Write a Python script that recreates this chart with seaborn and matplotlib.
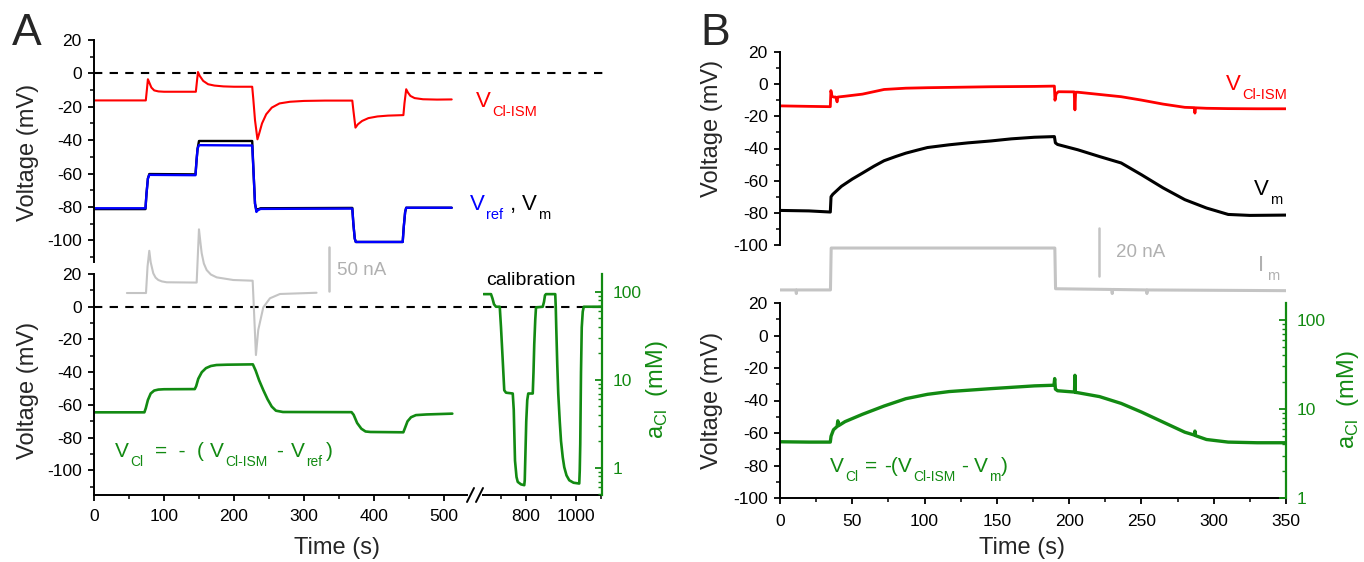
import numpy as np
import matplotlib
matplotlib.use('Agg')
import matplotlib.pyplot as plt
import seaborn as sns
from matplotlib.ticker import MultipleLocator, FixedLocator, LogLocator, NullFormatter
from matplotlib.lines import Line2D

# ---------------- data ----------------
# panel A, top: V_Cl-ISM, V_ref, V_m (mV) against time (s)
a_ism_t = [0, 74, 75.5, 77, 79, 82, 86, 92, 100, 145.5, 147, 148.5, 151, 156, 163, 172, 185, 200,
           226, 227.5, 230, 233.5, 236, 240, 246, 254, 265, 280, 300, 330, 369, 370.5, 373.5, 377,
           383, 392, 405, 420, 442, 443.5, 446, 448.5, 452, 458, 470, 490, 511]
a_ism_v = [-16.2, -16.2, -10, -3.5, -5.5, -8.5, -10.2, -10.8, -11, -11, -5, 0.8, -1.5, -4.5, -6.5,
           -7.3, -7.8, -8, -8, -15, -28, -39.5, -36, -30, -24.5, -20.5, -18, -17, -16.5, -16.3,
           -16.3, -22, -32.5, -30.5, -28.5, -26.8, -25.8, -25.3, -25, -18, -9.5, -11.5, -13.5,
           -14.8, -15.5, -15.7, -15.6]
a_step_t = [0, 73.5, 75, 77, 79, 145, 146.5, 148, 150, 226, 228, 230, 232, 234, 238, 369, 370.5,
            372.5, 374, 441, 442.5, 444.5, 446, 511]
a_ref_v = [-80.8, -80.8, -72, -63, -60.8, -61, -52, -45, -43, -43.2, -60, -78, -83, -82, -81.2,
           -81, -90, -99, -101, -101, -92, -83, -80.5, -80.5]
a_vm_v = [-81.3, -81.3, -72, -63, -60.3, -60.5, -52, -45, -40.5, -40.5, -60, -78, -82, -81.5,
          -80.8, -80.6, -90, -99, -101, -101, -92, -83, -80.5, -80.5]

# panel A: membrane current (nA)
a_im_t = [47, 74.3, 76.5, 79, 81, 84.7, 88, 91.9, 97, 103.9, 144.3, 146.7, 148.5, 150, 152,
          153.9, 157, 161, 167, 175.3, 199, 226.7, 227.5, 231.4, 234.7, 241.9, 251.4, 265.7, 318]
a_im_i = [0, 0, 30, 48, 35, 22.4, 17.5, 14.8, 13.2, 12.2, 11.9, 11.9, 45, 72.4, 58, 45.1, 33.5,
          26.1, 21, 17.8, 14.8, 14.0, 0, -70.5, -42, -16.3, -6.0, -1.1, 0.3]
a_bar_t = [336, 336]
a_bar_i = [2, 52]

# panel A, bottom: V_Cl (mV)
a_cl_t = [0, 72, 74, 77, 81, 86, 92, 100, 144, 146, 149, 154, 160, 167, 175, 190, 227, 231, 236,
          242, 248, 254, 260, 270, 368, 371, 376, 382, 388, 395, 442, 444, 448, 453, 460, 475, 512]
a_cl_v = [-64.5, -64.5, -62, -57, -53, -51.2, -50.6, -50.4, -50.3, -48.5, -44, -40, -37.5,
          -36.2, -35.6, -35.4, -35.2, -39, -45, -51, -56.5, -61, -63.5, -64.3, -64.4, -66, -71,
          -74.5, -76.2, -76.5, -76.7, -74.5, -70, -67.5, -66.2, -65.8, -65.3]

# panel A: calibration
cal_t = [630, 660, 666, 672, 680, 695, 700, 707, 713, 720, 747, 749, 751, 756, 762, 767, 780,
         793, 795, 797, 801, 805, 809, 827, 830, 833, 837, 840, 867, 872, 876, 880, 917, 919,
         921, 925, 929, 935, 940, 947, 953, 962, 973, 990, 1013, 1015, 1017, 1020, 1023, 1027,
         1031, 1104]
cal_v = [7.7, 7.7, 5, 1.5, 0, 0, -12.6, -33, -51, -52.5, -53, -58, -63, -94, -104, -107, -108.5,
         -109, -106, -94, -70, -57, -53, -53, -40, -23, -8, -0.4, 0, 3, 7, 7.7, 7.7, 0, -12.6,
         -35, -53, -70, -82, -92, -98, -103, -106, -107.5, -108, -100, -84, -40, -12.6, -3, 0, 0]

# panel B, top
b_ism_t = [0, 20, 34.8, 35.2, 36, 37, 38.5, 39.5, 40, 45, 57, 72, 87, 102, 117, 146, 176, 189.8,
           190.2, 191, 192.5, 203.5, 204, 204.5, 206, 221, 236, 250, 265, 280, 286.5, 287, 287.5,
           295, 310, 330, 350]
b_ism_v = [-13.5, -13.8, -14, -4, -7.5, -8, -8, -11, -8, -7.5, -6.2, -3.3, -2.5, -2.2, -2, -1.6,
           -1.4, -1.2, -10, -6, -4.7, -4.8, -16, -5, -5, -6.4, -7.8, -9.9, -12.4, -14.4, -14.6,
           -18, -14.7, -15, -15.2, -15.3, -15.3]
b_vm_t = [0, 20, 34.8, 35.3, 36.5, 42.5, 50, 57, 65, 72, 80, 87, 95, 102, 117, 130, 146, 160, 176,
          189.8, 190.5, 192, 206, 221, 236, 250, 265, 280, 295, 310, 325, 350]
b_vm_v = [-78.5, -78.8, -79.5, -70, -68.5, -63.5, -59, -55.3, -51, -47.6, -45, -42.9, -41, -39.4,
          -37.7, -36.5, -35.3, -34, -33, -32.6, -36.5, -37.5, -40.8, -45, -49, -56.3, -64.5,
          -71.8, -77, -81, -81.6, -81.4]
b_im_t = [0, 11, 11.3, 11.6, 34.9, 35.4, 190.1, 190.6, 229.5, 229.8, 230.1, 253.5, 253.8, 254.1, 350]
b_im_i = [0, 0, -1.5, 0, 0, 17.5, 17.5, 0.5, 0.2, -1.5, 0.2, 0, -1.5, 0, -0.3]
b_bar_t = [220.7, 220.7]
b_bar_i = [6, 26]

# panel B, bottom
b_cl_t = [0, 20, 34.8, 35.3, 37, 39.5, 40, 40.5, 45, 57, 72, 87, 102, 117, 146, 176, 189.5, 190,
          190.5, 192, 203.7, 204, 204.3, 206, 221, 236, 250, 265, 280, 286.7, 287, 287.3, 295,
          310, 330, 350]
b_cl_v = [-65.4, -65.6, -65.6, -62, -58, -56, -52.5, -55.5, -53, -48.5, -43.4, -38.9, -36.2,
          -34.5, -32.7, -31, -30.6, -26.5, -33, -34, -34.8, -24.5, -35, -35.2, -37.6, -41.8,
          -47.1, -53.3, -59.5, -61.3, -58.8, -61.6, -64, -65.6, -66, -66]

# ---------------- figure ----------------
sns.set_theme(style='ticks')
plt.rcParams['font.family'] = ['Liberation Sans', 'DejaVu Sans']
plt.rcParams['axes.unicode_minus'] = False

RED, BLUE, GREEN = '#ff0000', '#0000ff', '#128a12'
GRAY, GRAYTXT = '#c4c4c4', '#b0b0b0'
W, H = 1364, 562
fig = plt.figure(figsize=(W / 100, H / 100), dpi=100)


def box(x0, y0, x1, y1):
    return [x0 / W, 1 - y1 / H, (x1 - x0) / W, (y1 - y0) / H]


def style(ax, left=True, bottom=True):
    ax.set_facecolor('none')
    for s in ['top', 'right']:
        ax.spines[s].set_visible(False)
    ax.spines['left'].set_visible(left)
    ax.spines['bottom'].set_visible(bottom)
    for s in ['left', 'bottom']:
        ax.spines[s].set_linewidth(1.4)
        ax.spines[s].set_color('black')
    ax.tick_params(which='major', length=4.3, width=1.3, labelsize=12.5, pad=4.5,
                   direction='out', colors='black')
    ax.tick_params(which='minor', length=2.6, width=1.1, direction='out', colors='black')
    if not bottom:
        ax.tick_params(axis='x', which='both', bottom=False, labelbottom=False)
    ax.set_xlabel('')
    ax.set_ylabel('')


def logaxis(ax, lo, hi):
    ax2 = ax.twinx()
    ax2.set_yscale('log')
    ax2.set_ylim(lo, hi)
    for s in ['top', 'left', 'bottom']:
        ax2.spines[s].set_visible(False)
    ax2.spines['right'].set_color(GREEN)
    ax2.spines['right'].set_linewidth(1.6)
    ax2.yaxis.set_major_locator(FixedLocator([1, 10, 100]))
    ax2.yaxis.set_minor_locator(LogLocator(base=10, subs=np.arange(2, 10)))
    ax2.yaxis.set_minor_formatter(NullFormatter())
    ax2.set_yticklabels(['1', '10', '100'])
    ax2.tick_params(which='major', direction='in', length=5, width=1.3, colors=GREEN,
                    labelsize=12.5, pad=8)
    ax2.tick_params(which='minor', direction='in', length=3, width=1.0, colors=GREEN)
    return ax2


def line(ax, t, v, color, lw):
    sns.lineplot(x=t, y=v, ax=ax, color=color, lw=lw, sort=False, estimator=None)


def dash(ax, **kw):
    ax.axhline(0, color='black', lw=1.5, dashes=(4, 3.5), zorder=1, **kw)


rend = fig.canvas.get_renderer()


def rich(x, y, parts, size):
    # parts: (text, colour, subscript?, gap before in px); y is the baseline in px from top
    for txt, col, sub, gap in parts:
        x += gap
        fs = size * 0.66 if sub else size
        dy = size * 1.389 * 0.42 if sub else 0
        t = fig.text(x / W, 1 - (y + dy) / H, txt, fontsize=fs, color=col,
                     va='baseline', ha='left')
        x += t.get_window_extent(rend).width


# ---- panel A top ----
axA = fig.add_axes(box(94, 40, 605, 262))
line(axA, a_step_t, a_vm_v, 'black', 1.7)
line(axA, a_step_t, a_ref_v, BLUE, 1.7)
line(axA, a_ism_t, a_ism_v, RED, 1.5)
dash(axA)
axA.set_xlim(0, (605 - 94) / 0.7)
axA.set_ylim(-113, 20)
style(axA, bottom=False)
axA.yaxis.set_major_locator(FixedLocator([20, 0, -20, -40, -60, -80, -100]))
axA.yaxis.set_minor_locator(MultipleLocator(10))

# ---- panel A bottom (broken time axis) ----
axL = fig.add_axes(box(94, 274, 467, 495))
line(axL, a_cl_t, a_cl_v, GREEN, 1.9)
dash(axL, xmax=(483 - 94) / (467 - 94), clip_on=False)
axL.set_xlim(0, 533)
axL.set_ylim(-115, 20)
style(axL)
axL.yaxis.set_major_locator(FixedLocator([20, 0, -20, -40, -60, -80, -100]))
axL.yaxis.set_minor_locator(MultipleLocator(10))
axL.xaxis.set_major_locator(FixedLocator([0, 100, 200, 300, 400, 500]))
axL.xaxis.set_minor_locator(FixedLocator([50, 150, 250, 350, 450]))
axL.tick_params(axis='x', pad=6)

axR = fig.add_axes(box(483, 274, 602, 495))
line(axR, cal_t, cal_v, GREEN, 1.9)
dash(axR)
axR.set_xlim(628, 1104)
axR.set_ylim(-115, 20)
style(axR, left=False)
axR.xaxis.set_major_locator(FixedLocator([800, 1000]))
axR.xaxis.set_minor_locator(FixedLocator([700, 900, 1100]))
axR.tick_params(axis='x', pad=6)
logaxis(axR, 0.493, 160)
# twinx switches the left ticks back on; the calibration segment has no left axis
axR.tick_params(axis='y', which='both', left=False, labelleft=False)

for x0 in (467, 476):
    fig.add_artist(Line2D([x0 / W, (x0 + 7) / W], [1 - 502 / H, 1 - 488 / H],
                          color='black', lw=1.4))

# membrane current, panel A
axIa = fig.add_axes(box(94, 220, 467, 370))
line(axIa, a_im_t, a_im_i, GRAY, 1.5)
line(axIa, a_bar_t, a_bar_i, GRAY, 1.8)
axIa.set_xlim(0, 533)
axIa.set_ylim(-87.5, 83)
axIa.axis('off')

# ---- panel B top ----
axB = fig.add_axes(box(780, 52, 1286, 245))
line(axB, b_vm_t, b_vm_v, 'black', 2.2)
line(axB, b_ism_t, b_ism_v, RED, 2.0)
axB.set_xlim(0, 350)
axB.set_ylim(-100, 20)
style(axB, bottom=False)
axB.yaxis.set_major_locator(MultipleLocator(20))
axB.yaxis.set_minor_locator(MultipleLocator(10))

axIb = fig.add_axes(box(780, 220, 1286, 300))
line(axIb, b_im_t, b_im_i, GRAY, 2.2)
line(axIb, b_bar_t, b_bar_i, GRAY, 1.8)
axIb.set_xlim(0, 350)
axIb.set_ylim(-4.2, 29.2)
axIb.axis('off')

# ---- panel B bottom ----
axC = fig.add_axes(box(780, 303, 1286, 498))
line(axC, b_cl_t, b_cl_v, GREEN, 2.4)
axC.set_xlim(0, 350)
axC.set_ylim(-100, 20)
style(axC)
axC.yaxis.set_major_locator(MultipleLocator(20))
axC.yaxis.set_minor_locator(MultipleLocator(10))
axC.xaxis.set_major_locator(MultipleLocator(50))
axC.xaxis.set_minor_locator(MultipleLocator(25))
axC.tick_params(axis='x', pad=7)
logaxis(axC, 1, 155)

# ---------------- labels ----------------
fig.text(12 / W, 1 - 45 / H, 'A', fontsize=32, va='baseline')
fig.text(700 / W, 1 - 45 / H, 'B', fontsize=32, va='baseline')

lab = dict(fontsize=17, rotation=90, ha='center', va='center')
fig.text(28 / W, 1 - 152 / H, 'Voltage (mV)', **lab)
fig.text(28 / W, 1 - 390 / H, 'Voltage (mV)', **lab)
fig.text(712 / W, 1 - 128 / H, 'Voltage (mV)', **lab)
fig.text(712 / W, 1 - 400 / H, 'Voltage (mV)', **lab)
fig.text(657 / W, 1 - 390 / H, r'a$_{\mathregular{Cl}}$  (mM)', color=GREEN, **lab)
fig.text(1348 / W, 1 - 400 / H, r'a$_{\mathregular{Cl}}$  (mM)', color=GREEN, **lab)
fig.text(337 / W, 1 - 548 / H, 'Time (s)', fontsize=17, ha='center', va='center')
fig.text(1022 / W, 1 - 548 / H, 'Time (s)', fontsize=17, ha='center', va='center')

fig.text(337 / W, 1 - 275 / H, '50 nA', fontsize=13.5, color=GRAYTXT, va='baseline')
fig.text(1116 / W, 1 - 257 / H, '20 nA', fontsize=13.5, color=GRAYTXT, va='baseline')
fig.text(486 / W, 1 - 285 / H, 'calibration', fontsize=14, color='black', va='baseline')

rich(476, 107, [('V', RED, False, 0), ('Cl-ISM', RED, True, 1)], 16)
rich(470, 210, [('V', BLUE, False, 0), ('ref', BLUE, True, 1), (',', 'black', False, 7),
                ('V', 'black', False, 6), ('m', 'black', True, 1)], 16)
rich(1226, 90, [('V', RED, False, 0), ('Cl-ISM', RED, True, 1)], 16)
rich(1254, 195, [('V', 'black', False, 0), ('m', 'black', True, 1)], 16)
rich(1258, 271, [('I', GRAYTXT, False, 0), ('m', GRAYTXT, True, 3)], 16)

rich(115, 457, [('V', GREEN, False, 0), ('Cl', GREEN, True, 1), ('=  -  (', GREEN, False, 12),
                ('V', GREEN, False, 6), ('Cl-ISM', GREEN, True, 1), ('-', GREEN, False, 9),
                ('V', GREEN, False, 8), ('ref', GREEN, True, 1), (')', GREEN, False, 4)], 15)
rich(830, 472, [('V', GREEN, False, 0), ('Cl', GREEN, True, 1), ('=', GREEN, False, 7),
                ('-(V', GREEN, False, 7), ('Cl-ISM', GREEN, True, 1), ('-', GREEN, False, 6),
                ('V', GREEN, False, 6), ('m', GREEN, True, 1), (')', GREEN, False, 1)], 15)

fig.savefig('out.png', dpi=100)
